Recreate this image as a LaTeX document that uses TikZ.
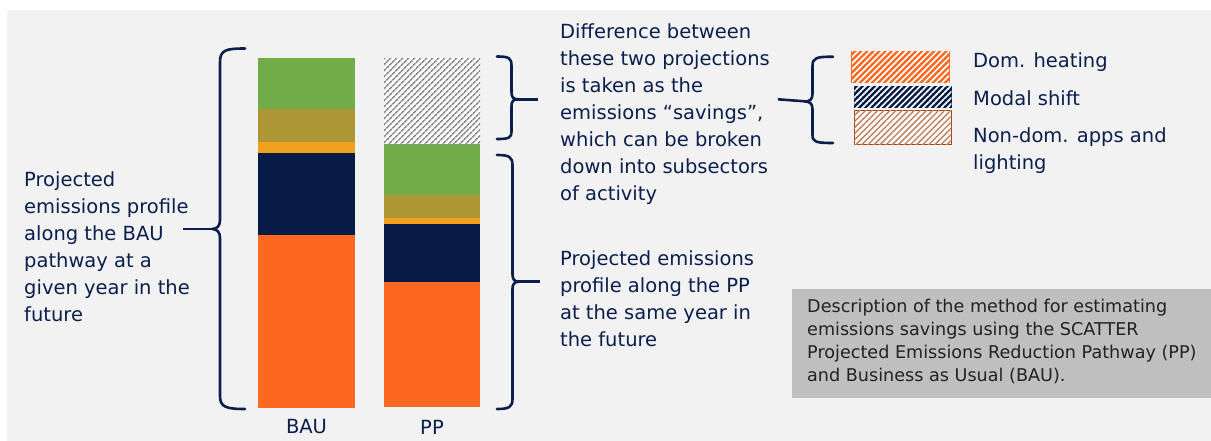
\documentclass[tikz,border=0pt]{standalone}
\usepackage{fontspec}
\setmainfont{DejaVu Sans}
\usetikzlibrary{patterns.meta}
\definecolor{bg}{HTML}{F2F2F2}
\definecolor{navy}{HTML}{0B1F4D}
\definecolor{cgreen}{HTML}{72AC48}
\definecolor{colive}{HTML}{AD9734}
\definecolor{cyellow}{HTML}{F2A11F}
\definecolor{cnavy}{HTML}{061C47}
\definecolor{corange}{HTML}{FD6820}
\definecolor{cbrown}{HTML}{A5430F}
\definecolor{descgray}{HTML}{BFBFBF}
\definecolor{desctext}{HTML}{222222}
\tikzset{
  brace/.style={draw=navy,line width=2.6pt,line cap=round,line join=round},
  conn/.style={draw=navy,line width=2.6pt},
  txt/.style={text=navy,font=\fontsize{19.5}{27}\selectfont,align=left,inner sep=0pt,anchor=north west},
}
\begin{document}
\begin{tikzpicture}[x=1pt,y=-1pt]
\useasboundingbox (0,0) rectangle (1211,441);
\fill[white] (0,0) rectangle (1211,441);
\fill[bg] (7,10) rectangle (1211,441);

% BAU bar
\fill[corange] (258,235) rectangle (355,408);
\fill[cnavy] (258,153) rectangle (355,235);
\fill[cyellow] (258,142.5) rectangle (355,153);
\fill[colive] (258,109) rectangle (355,142.5);
\fill[cgreen] (258,58.5) rectangle (355,109);
% PP bar
\fill[corange] (384,281.5) rectangle (480,407);
\fill[cnavy] (384,224) rectangle (480,281.5);
\fill[cyellow] (384,218) rectangle (480,224);
\fill[colive] (384,195) rectangle (480,218);
\fill[cgreen] (384,144.5) rectangle (480,195);
\fill[white] (384,58.5) rectangle (480,144.5);
\fill[pattern={Lines[angle=45,distance=4pt,line width=1.7pt]},pattern color=gray!90] (384,58.5) rectangle (480,144.5);

\node[text=navy,font=\fontsize{19.5}{22}\selectfont,anchor=center] (bau) at (306.5,427) {BAU};
\node[text=navy,font=\fontsize{19.5}{22}\selectfont,anchor=center] (pp) at (432,427) {PP};

% left brace
\draw[brace] (245,48.5) .. controls (226,48.5) and (220,50) .. (220,62) -- (220,220)
  .. controls (220,226) and (217,229) .. (212,229)
  .. controls (217,229) and (220,232) .. (220,238) -- (220,396)
  .. controls (220,407) and (226,409) .. (245,409);
\coordinate (lbt) at (214,229);
% PP upper brace
\draw[brace] (497,56.5) .. controls (509,56.5) and (511.5,58) .. (511.5,66) -- (511.5,92)
  .. controls (511.5,97) and (513,99.3) .. (518,99.3)
  .. controls (513,99.3) and (511.5,101.5) .. (511.5,106) -- (511.5,131)
  .. controls (511.5,138) and (509,139) .. (497,139);
\coordinate (ubt) at (516,99.3);
% PP lower brace
\draw[brace] (497,155) .. controls (509,155) and (512.5,157) .. (512.5,165) -- (512.5,274)
  .. controls (512.5,279) and (514,281.7) .. (519,281.7)
  .. controls (514,281.7) and (512.5,284.5) .. (512.5,289) -- (512.5,399)
  .. controls (512.5,407) and (509,409) .. (497,409);
\coordinate (lpt) at (517,281.7);
% legend brace
\draw[brace] (833,56.7) .. controls (816,56.7) and (812.5,58) .. (812.5,66) -- (812.5,94)
  .. controls (812.5,99) and (810,101.5) .. (805,101.5)
  .. controls (810,101.5) and (812.5,104) .. (812.5,109) -- (812.5,135)
  .. controls (812.5,142) and (816,143) .. (833,143);
\coordinate (lgt) at (807,101.5);

% texts
\node[txt] (bautxt) at (24,171) {Projected\\emissions profile\\along the BAU\\pathway at a\\given year in the\\future};
\node[txt] (difftxt) at (560,23.5) {Difference between\\these two projections\\is taken as the\\emissions “savings”,\\which can be broken\\down into subsectors\\of activity};
\node[txt] (pptxt) at (560,250) {Projected emissions\\profile along the PP\\at the same year in\\the future};

\draw[conn] (183,229) -- (lbt);
\draw[conn] (ubt) -- (538,99.3);
\draw[conn] (lpt) -- (540,281.7);
\draw[conn] (778,99.3) -- (lgt);

% legend
\node[draw=corange,line width=1.2pt,fill=corange,minimum width=97pt,minimum height=31pt,inner sep=0pt,
  postaction={pattern={Lines[angle=45,distance=4.3pt,line width=1.7pt]},pattern color=white}] (lg1) at (900.5,67.2) {};
\node[draw=cnavy,line width=1.2pt,fill=cnavy,minimum width=97pt,minimum height=21pt,inner sep=0pt,
  postaction={pattern={Lines[angle=45,distance=4.3pt,line width=1.7pt]},pattern color=white}] (lg2) at (902.8,97.2) {};
\node[draw=cbrown,line width=1.4pt,fill=white,minimum width=97pt,minimum height=34pt,inner sep=0pt,
  postaction={pattern={Lines[angle=45,distance=4.3pt,line width=1.5pt]},pattern color=cbrown!65}] (lg3) at (902.8,127.8) {};
\node[txt,anchor=west] (l1) at (973,62) {Dom. heating};
\node[txt,anchor=west] (l2) at (973,98) {Modal shift};
\node[txt,anchor=north west] (l3) at (973,127) {Non-dom. apps and\\lighting};

% description box
\fill[descgray] (791.5,288.5) rectangle (1211,397.5);
\node[text=desctext,font=\fontsize{17.6}{23}\selectfont,align=left,inner sep=0pt,anchor=north west] (desc) at (807,298.5) {Description of the method for estimating\\emissions savings using the SCATTER\\Projected Emissions Reduction Pathway (PP)\\and Business as Usual (BAU).};
\end{tikzpicture}
\end{document}
